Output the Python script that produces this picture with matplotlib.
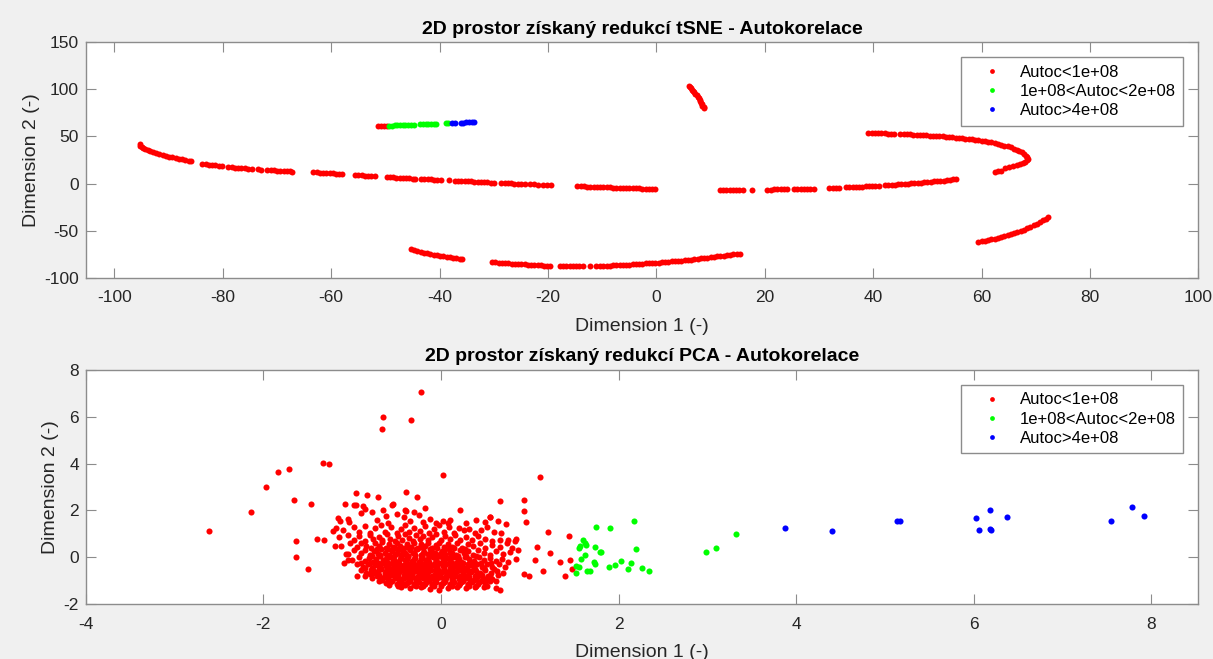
import numpy as np
import matplotlib
matplotlib.use("Agg")
import matplotlib.pyplot as plt

plt.rcParams['font.family'] = ['Liberation Sans', 'DejaVu Sans']
plt.rcParams['axes.unicode_minus'] = False

# ---- tSNE data ----
tsne_red_arc_top = [
    (-95.3, 41.5), (-95.2, 40.2), (-95.0, 39.0), (-94.7, 37.8), (-94.3, 36.6), (-93.9, 35.5),
    (-93.4, 34.4), (-92.9, 33.3), (-92.3, 32.2), (-91.7, 31.2), (-91.1, 30.2), (-90.5, 29.3),
    (-89.9, 28.5), (-89.3, 27.7), (-88.7, 27.0), (-88.1, 26.3), (-87.5, 25.6), (-86.9, 25.0),
    (-86.3, 24.4), (-85.8, 23.9),
    (-83.8, 21.0), (-83.2, 20.5), (-82.6, 20.1), (-82.0, 19.7), (-81.4, 19.3), (-80.8, 18.9),
    (-80.2, 18.5),
    (-79.0, 17.6), (-78.4, 17.3), (-77.8, 17.0), (-77.2, 16.7), (-76.6, 16.4), (-76.0, 16.1),
    (-75.4, 15.8), (-74.6, 15.5), (-73.6, 15.1), (-72.9, 14.8),
    (-71.8, 14.4), (-71.2, 14.2), (-70.6, 14.0), (-70.0, 13.8), (-69.4, 13.5), (-68.8, 13.3),
    (-68.2, 13.1), (-67.6, 12.9), (-67.2, 12.7),
    (-63.3, 12.0), (-62.7, 11.8), (-62.1, 11.6), (-61.5, 11.3), (-60.9, 11.1), (-60.3, 10.9),
    (-59.7, 10.7), (-59.1, 10.5), (-58.5, 10.2), (-58.0, 10.0),
    (-55.6, 9.0), (-55.0, 8.8), (-54.4, 8.6), (-53.8, 8.4), (-53.2, 8.2), (-52.6, 8.0),
    (-52.0, 7.8),
    (-49.8, 6.9), (-49.2, 6.7), (-48.6, 6.5), (-48.0, 6.3), (-47.4, 6.1), (-46.8, 5.9),
    (-46.2, 5.7), (-45.6, 5.5), (-45.0, 5.3), (-44.6, 5.2),
    (-43.4, 4.9), (-42.8, 4.7), (-42.2, 4.5), (-41.6, 4.3), (-41.0, 4.1), (-40.4, 3.9),
    (-39.8, 3.7),
    (-38.2, 3.4), (-37.2, 3.1), (-36.6, 2.9), (-36.0, 2.7), (-35.4, 2.5), (-34.8, 2.3),
    (-34.2, 2.2), (-33.6, 2.0), (-33.0, 1.8), (-32.4, 1.6), (-31.8, 1.5), (-31.2, 1.3),
    (-30.6, 1.1), (-30.0, 1.0),
    (-28.6, 0.7), (-28.0, 0.5), (-27.4, 0.4), (-26.8, 0.2), (-26.2, 0.0), (-25.6, -0.2),
    (-25.0, -0.3), (-24.2, -0.5), (-23.4, -0.7), (-22.6, -0.9), (-21.8, -1.1), (-21.0, -1.3),
    (-20.2, -1.5), (-19.5, -1.7),
    (-14.6, -2.7), (-14.0, -2.9), (-13.4, -3.0), (-12.8, -3.2), (-12.2, -3.3), (-11.6, -3.5),
    (-11.0, -3.6), (-10.4, -3.8), (-9.8, -3.9), (-9.2, -4.1), (-8.6, -4.2), (-8.0, -4.3),
    (-7.4, -4.4), (-6.8, -4.5), (-6.2, -4.7), (-5.6, -4.8), (-5.0, -4.9), (-4.4, -5.0),
    (-3.8, -5.1), (-3.2, -5.2), (-2.6, -5.3), (-2.0, -5.4), (-1.4, -5.5), (-0.8, -5.6),
    (-0.2, -5.7),
]
tsne_red_arc_mid = [
    (11.7, -6.7), (12.3, -6.7), (12.9, -6.6), (13.5, -6.6), (14.1, -6.6), (14.7, -6.5),
    (15.3, -6.5), (15.9, -6.5), (17.6, -6.4),
    (20.5, -6.4), (21.1, -6.4), (21.7, -6.3), (22.3, -6.3), (22.9, -6.2), (23.5, -6.2),
    (24.1, -6.1),
    (25.4, -6.0), (26.0, -5.9), (26.6, -5.9), (27.2, -5.8), (27.8, -5.7), (28.4, -5.6),
    (29.0, -5.5),
    (31.9, -5.0), (32.5, -4.9), (33.1, -4.8), (33.7, -4.6),
    (35.0, -4.2), (35.6, -4.0), (36.2, -3.8), (36.8, -3.6), (37.4, -3.4), (38.0, -3.2),
    (38.6, -3.0), (39.2, -2.8), (39.8, -2.6), (40.4, -2.4), (41.0, -2.2),
    (42.2, -1.8), (42.8, -1.6), (43.4, -1.4), (44.0, -1.2), (44.6, -0.9), (45.2, -0.7),
    (45.8, -0.4), (46.4, -0.1), (47.0, 0.2), (47.6, 0.5), (48.2, 0.8), (48.8, 1.1),
    (49.4, 1.4), (50.0, 1.7), (50.6, 2.0), (51.2, 2.3), (51.8, 2.6), (52.4, 2.9),
    (53.0, 3.2), (53.6, 3.5), (54.2, 3.9), (54.8, 4.3), (55.3, 4.8),
]
tsne_red_hook = [
    (39.1, 53.6), (39.7, 53.5), (40.3, 53.5), (40.9, 53.4), (41.5, 53.3), (42.1, 53.2),
    (42.7, 53.1), (43.3, 53.0), (43.9, 52.9), (45.0, 52.6), (45.6, 52.5), (46.2, 52.3),
    (46.8, 52.2), (47.4, 52.0), (48.0, 51.8), (48.6, 51.6), (49.2, 51.4), (49.8, 51.2),
    (50.4, 51.0), (51.0, 50.8), (51.6, 50.6), (52.2, 50.3), (52.8, 50.1), (53.4, 49.8),
    (54.0, 49.5), (54.6, 49.2), (55.2, 48.9), (55.8, 48.6), (56.4, 48.2), (57.0, 47.8),
    (57.6, 47.4), (58.2, 47.0), (58.8, 46.5), (59.4, 46.0), (60.0, 45.5), (60.6, 44.9),
    (61.2, 44.3), (61.8, 43.6), (62.4, 42.9), (63.0, 42.1), (63.6, 41.3), (64.2, 40.4),
    (64.8, 39.4), (65.4, 38.3), (66.0, 37.1), (66.5, 35.9), (67.0, 34.5), (67.5, 33.0),
    (67.9, 31.4), (68.2, 29.7), (68.4, 28.0), (68.5, 26.3), (68.3, 24.6), (68.0, 23.0),
    (67.6, 21.6), (67.1, 20.4), (66.5, 19.3), (65.8, 18.3), (65.1, 17.5), (64.4, 16.8),
    (63.6, 13.4), (63.0, 13.0), (62.4, 12.6),
]
tsne_red_steep = [
    (6.0, 103.8), (6.2, 102.5), (6.4, 101.1), (6.6, 99.7), (6.8, 98.3), (7.0, 96.9),
    (7.2, 95.4), (7.4, 93.9), (7.6, 92.4), (7.8, 90.8), (8.0, 89.2), (8.1, 87.6),
    (8.3, 86.0), (8.4, 84.4), (8.5, 82.8), (8.7, 81.2), (8.8, 80.0),
]
tsne_red_low_right = [
    (59.4, -62.1), (60.0, -61.5), (60.6, -60.8), (61.2, -60.1), (61.8, -59.3), (62.4, -58.5),
    (63.0, -57.6), (63.6, -56.7), (64.2, -55.8), (64.8, -54.8), (65.4, -53.8), (66.0, -52.7),
    (66.6, -51.5), (67.2, -50.3), (67.8, -49.0), (68.4, -47.6), (69.0, -46.0), (69.6, -44.3),
    (70.2, -42.5), (70.8, -40.6), (71.4, -38.8), (71.9, -37.3), (72.3, -36.0),
]
tsne_red_bottom = [
    (-45.3, -70.0), (-44.7, -70.9), (-44.1, -71.7), (-43.5, -72.5), (-42.9, -73.3), (-42.3, -74.0),
    (-41.7, -74.7), (-41.1, -75.4), (-40.5, -76.1), (-39.9, -76.7), (-39.3, -77.3), (-38.7, -77.9),
    (-38.1, -78.5), (-37.5, -79.0), (-36.9, -79.5), (-36.3, -80.0), (-35.8, -80.5),
    (-30.3, -83.5), (-29.7, -83.8), (-29.1, -84.1), (-28.5, -84.4), (-27.9, -84.6), (-27.3, -84.9),
    (-26.7, -85.1), (-26.1, -85.3), (-25.5, -85.5), (-24.9, -85.7), (-24.3, -85.9), (-23.7, -86.1),
    (-23.1, -86.3), (-22.5, -86.5), (-21.9, -86.7), (-21.3, -86.9), (-20.7, -87.1), (-20.1, -87.2),
    (-19.6, -87.3),
    (-17.8, -87.6), (-17.2, -87.7), (-16.6, -87.7), (-16.0, -87.8), (-15.4, -87.8), (-14.8, -87.8),
    (-14.2, -87.8), (-13.6, -87.7), (-12.2, -87.7), (-11.2, -87.6),
    (-10.4, -87.5), (-9.8, -87.4), (-9.2, -87.3), (-8.6, -87.2), (-8.0, -87.0), (-7.4, -86.9),
    (-6.8, -86.7), (-6.2, -86.5), (-5.6, -86.3), (-5.0, -86.1), (-4.4, -85.9), (-3.8, -85.7),
    (-3.2, -85.4), (-2.6, -85.2), (-2.0, -84.9), (-1.4, -84.7), (-0.8, -84.4), (-0.2, -84.2),
    (0.4, -83.9), (1.0, -83.6), (1.6, -83.3), (2.2, -83.0), (2.8, -82.7), (3.4, -82.4),
    (4.0, -82.1), (4.6, -81.8), (5.2, -81.4), (5.8, -81.1), (6.4, -80.7), (7.0, -80.3),
    (7.6, -79.9), (8.2, -79.5), (8.8, -79.1), (9.4, -78.7), (10.0, -78.3), (10.6, -77.9),
    (11.2, -77.4), (11.8, -77.0), (12.4, -76.5), (13.0, -76.0), (13.6, -75.5), (14.2, -75.1),
    (14.8, -74.8), (15.4, -74.6),
]
tsne_red_short = [(-51.3, 61.1), (-50.8, 61.1), (-50.3, 61.2), (-49.8, 61.2)]
tsne_green = [
    (-49.3, 61.4), (-48.8, 61.5), (-48.3, 61.7), (-47.8, 61.8), (-47.3, 62.0), (-46.8, 62.1),
    (-46.3, 62.3), (-45.8, 62.4), (-45.3, 62.6), (-44.8, 62.7), (-43.6, 63.0), (-43.1, 63.1),
    (-42.6, 63.2), (-42.1, 63.3), (-41.6, 63.4), (-41.1, 63.5), (-40.6, 63.6), (-38.9, 64.1),
    (-38.5, 64.2),
]
tsne_blue = [
    (-37.8, 64.4), (-37.2, 64.5), (-36.1, 64.7), (-35.6, 64.8), (-35.1, 64.9), (-34.6, 65.0),
    (-34.1, 65.0), (-33.6, 65.1),
]

# ---- PCA data ----
pca_red_outer = [
    (-2.61, 1.14), (-2.14, 1.94), (-1.97, 3.02), (-1.84, 3.62), (-1.71, 3.77), (-1.65, 2.45),
    (-1.63, 0.71), (-1.63, 0.0), (-1.50, -0.48), (-1.46, 2.26), (-1.40, 0.80), (-1.33, 4.03),
    (-1.26, 3.96), (-1.32, 0.74), (-0.65, 5.98), (-0.66, 5.48), (-0.34, 5.84), (-0.23, 7.05),
    (0.02, 3.52), (1.12, 3.43), (-0.39, 2.80), (-0.27, 2.58), (0.94, 2.46), (0.94, 1.99),
    (0.96, 1.51), (1.21, 1.08), (1.23, 0.17), (1.34, -0.20), (1.40, -0.81), (1.44, 0.90),
    (1.45, -0.10), (1.48, -0.50), (1.15, -0.60), (1.06, -0.10), (1.08, 0.43), (0.99, -0.81),
    (0.94, -0.71), (0.67, -1.38), (0.62, -1.32), (0.21, 2.04), (0.67, 2.39), (0.55, 1.72),
    (0.64, 1.54), (0.73, 1.42), (0.83, 0.68), (0.87, 0.33), (-0.96, 2.76), (-0.83, 2.66),
    (-0.71, 2.56), (-0.54, 2.28), (-0.39, 1.99), (-1.08, 2.26), (-0.98, 2.22), (-1.16, 1.68),
    (-1.14, 1.54), (-1.18, 1.24), (-1.22, 1.11), (-1.19, 0.47), (-1.07, 0.14), (-1.09, -0.24),
    (-1.05, -0.10), (-0.94, -0.78),
]
pca_red_core = [
    (-1.05, 1.62), (-1.03, 1.50), (-0.90, 1.90), (-0.78, 1.95), (-0.72, 1.60), (-0.62, 1.75),
    (-0.60, 1.45), (-0.50, 1.85), (-0.42, 1.70), (-0.35, 1.55), (-0.25, 1.80), (-0.20, 1.50),
    (-0.12, 1.65), (-0.05, 1.45), (0.02, 1.55), (0.10, 1.60), (0.28, 1.45), (0.40, 1.60),
    (0.50, 1.50), (0.55, 1.70), (-0.85, 2.05), (-0.65, 2.00), (-0.40, 2.00), (-0.55, 2.25),
    (-0.88, 2.20), (-0.96, 2.25), (0.08, 1.45), (-0.30, 1.95), (-0.18, 2.10),
    (-1.10, 1.15), (-0.98, 1.30), (-0.92, 1.10), (-0.85, 1.35), (-0.80, 1.05), (-0.74, 1.25),
    (-0.68, 1.40), (-0.63, 1.10), (-0.56, 1.30), (-0.50, 1.05), (-0.45, 1.20), (-0.40, 1.38),
    (-0.36, 1.08), (-0.30, 1.25), (-0.24, 1.12), (-0.18, 1.35), (-0.13, 1.05), (-0.08, 1.22),
    (-0.02, 1.40), (0.04, 1.10), (0.09, 1.30), (0.15, 1.05), (0.20, 1.25), (0.26, 1.15),
    (0.32, 1.20), (0.38, 1.05), (0.45, 1.18), (0.52, 1.30), (0.60, 1.10), (0.68, 1.05),
    (-1.15, 0.85), (-1.05, 0.95), (-0.98, 0.75), (-0.92, 0.90), (-0.86, 0.70), (-0.80, 0.95),
    (-0.76, 0.78), (-0.70, 0.88), (-0.66, 0.72), (-0.61, 0.98), (-0.57, 0.80), (-0.52, 0.70),
    (-0.48, 0.92), (-0.44, 0.76), (-0.40, 1.00), (-0.36, 0.82), (-0.32, 0.70), (-0.28, 0.94),
    (-0.24, 0.78), (-0.20, 0.90), (-0.15, 0.72), (-0.10, 0.86), (-0.05, 0.98), (0.00, 0.75),
    (0.05, 0.90), (0.10, 0.78), (0.16, 0.95), (0.22, 0.72), (0.28, 0.85), (0.35, 0.75),
    (0.42, 0.92), (0.50, 0.80), (0.58, 0.70), (0.66, 0.76), (0.75, 0.72), (0.85, 0.78),
    (-1.12, 0.50), (-1.02, 0.60), (-0.95, 0.45), (-0.90, 0.62), (-0.84, 0.50), (-0.79, 0.42),
    (-0.74, 0.60), (-0.70, 0.48), (-0.66, 0.64), (-0.62, 0.40), (-0.58, 0.55), (-0.54, 0.45),
    (-0.50, 0.62), (-0.46, 0.50), (-0.42, 0.40), (-0.38, 0.58), (-0.34, 0.46), (-0.30, 0.63),
    (-0.26, 0.42), (-0.22, 0.55), (-0.18, 0.48), (-0.14, 0.62), (-0.10, 0.40), (-0.06, 0.52),
    (-0.02, 0.60), (0.03, 0.44), (0.08, 0.58), (0.13, 0.46), (0.18, 0.60), (0.24, 0.42),
    (0.30, 0.55), (0.36, 0.48), (0.44, 0.60), (0.50, 0.42), (0.58, 0.52), (0.66, 0.45),
    (0.74, 0.60), (0.80, 0.40),
    (-1.05, 0.15), (-0.98, 0.30), (-0.90, 0.20), (-0.85, 0.32), (-0.80, 0.12), (-0.75, 0.26),
    (-0.71, 0.15), (-0.67, 0.34), (-0.63, 0.20), (-0.59, 0.10), (-0.55, 0.28), (-0.51, 0.16),
    (-0.47, 0.34), (-0.43, 0.22), (-0.39, 0.10), (-0.35, 0.30), (-0.31, 0.18), (-0.27, 0.34),
    (-0.23, 0.12), (-0.19, 0.25), (-0.15, 0.15), (-0.11, 0.32), (-0.07, 0.20), (-0.03, 0.10),
    (0.01, 0.28), (0.05, 0.16), (0.09, 0.34), (0.13, 0.20), (0.17, 0.10), (0.21, 0.30),
    (0.26, 0.18), (0.31, 0.26), (0.36, 0.12), (0.42, 0.30), (0.48, 0.20), (0.55, 0.10),
    (0.62, 0.28), (0.70, 0.15), (0.78, 0.22),
    (-1.00, -0.10), (-0.92, 0.00), (-0.86, -0.15), (-0.81, -0.02), (-0.77, -0.18), (-0.73, -0.05),
    (-0.69, 0.04), (-0.65, -0.12), (-0.61, -0.20), (-0.57, 0.02), (-0.53, -0.10), (-0.49, -0.18),
    (-0.45, 0.00), (-0.41, -0.12), (-0.37, 0.04), (-0.33, -0.16), (-0.29, -0.04), (-0.25, -0.20),
    (-0.21, 0.02), (-0.17, -0.10), (-0.13, -0.18), (-0.09, 0.00), (-0.05, -0.12), (-0.01, 0.04),
    (0.03, -0.16), (0.07, -0.04), (0.11, -0.20), (0.15, 0.00), (0.19, -0.10), (0.23, -0.18),
    (0.27, 0.02), (0.32, -0.08), (0.37, -0.16), (0.43, 0.00), (0.49, -0.12), (0.55, -0.02),
    (0.62, -0.15), (0.69, -0.05), (0.76, -0.20), (0.84, -0.08),
    (-0.95, -0.30), (-0.88, -0.40), (-0.82, -0.28), (-0.78, -0.45), (-0.74, -0.32), (-0.70, -0.42),
    (-0.66, -0.26), (-0.62, -0.38), (-0.58, -0.30), (-0.54, -0.45), (-0.50, -0.28), (-0.46, -0.40),
    (-0.42, -0.32), (-0.38, -0.44), (-0.34, -0.26), (-0.30, -0.38), (-0.26, -0.30), (-0.22, -0.45),
    (-0.18, -0.28), (-0.14, -0.40), (-0.10, -0.32), (-0.06, -0.44), (-0.02, -0.26), (0.02, -0.38),
    (0.06, -0.30), (0.10, -0.45), (0.14, -0.28), (0.18, -0.40), (0.22, -0.32), (0.26, -0.44),
    (0.31, -0.27), (0.36, -0.38), (0.41, -0.30), (0.46, -0.42), (0.52, -0.30), (0.58, -0.40),
    (0.65, -0.30), (0.72, -0.42),
    (-0.90, -0.55), (-0.84, -0.65), (-0.79, -0.52), (-0.75, -0.68), (-0.71, -0.58), (-0.67, -0.50),
    (-0.63, -0.66), (-0.59, -0.56), (-0.55, -0.70), (-0.51, -0.52), (-0.47, -0.62), (-0.43, -0.55),
    (-0.39, -0.70), (-0.35, -0.50), (-0.31, -0.64), (-0.27, -0.56), (-0.23, -0.68), (-0.19, -0.52),
    (-0.15, -0.62), (-0.11, -0.55), (-0.07, -0.70), (-0.03, -0.52), (0.01, -0.64), (0.05, -0.56),
    (0.09, -0.68), (0.13, -0.50), (0.17, -0.62), (0.21, -0.55), (0.25, -0.70), (0.29, -0.52),
    (0.34, -0.64), (0.39, -0.56), (0.44, -0.68), (0.50, -0.55), (0.56, -0.66), (0.63, -0.58),
    (0.70, -0.66),
    (-0.85, -0.80), (-0.78, -0.90), (-0.72, -0.78), (-0.68, -0.92), (-0.64, -0.82), (-0.60, -0.95),
    (-0.56, -0.76), (-0.52, -0.88), (-0.48, -0.80), (-0.44, -0.94), (-0.40, -0.78), (-0.36, -0.90),
    (-0.32, -0.82), (-0.28, -0.95), (-0.24, -0.76), (-0.20, -0.88), (-0.16, -0.80), (-0.12, -0.94),
    (-0.08, -0.78), (-0.04, -0.90), (0.00, -0.82), (0.04, -0.95), (0.08, -0.76), (0.12, -0.88),
    (0.16, -0.80), (0.20, -0.94), (0.24, -0.78), (0.28, -0.90), (0.32, -0.82), (0.37, -0.95),
    (0.42, -0.80), (0.47, -0.90), (0.53, -0.80), (0.58, -0.92),
    (-0.70, -1.02), (-0.62, -1.10), (-0.55, -1.00), (-0.50, -1.15), (-0.45, -1.05), (-0.40, -1.18),
    (-0.35, -1.00), (-0.30, -1.12), (-0.25, -1.04), (-0.20, -1.20), (-0.15, -1.02), (-0.10, -1.14),
    (-0.05, -1.06), (0.00, -1.20), (0.05, -1.00), (0.10, -1.12), (0.15, -1.05), (0.20, -1.18),
    (0.25, -1.02), (0.30, -1.14), (0.35, -1.06), (0.40, -1.20), (0.45, -1.00), (0.50, -1.10),
    (0.55, -1.02),
    (-0.45, -1.25), (-0.35, -1.30), (-0.22, -1.27), (-0.12, -1.33), (-0.02, -1.38), (0.08, -1.30),
    (0.18, -1.26), (0.28, -1.32), (0.38, -1.27), (0.48, -1.25),
]
pca_red_dense = [
    (-0.58, -1.16), (-0.48, -1.22), (-0.38, -1.10), (-0.28, -1.22), (-0.18, -1.12), (-0.08, -1.24),
    (0.02, -1.10), (0.12, -1.22), (0.22, -1.10), (0.32, -1.24), (0.42, -1.12), (0.52, -1.20),
    (-0.66, -0.98), (-0.57, -1.04), (-0.47, -0.98), (-0.37, -1.04), (-0.27, -0.98), (-0.17, -1.04),
    (-0.07, -0.98), (0.03, -1.04), (0.13, -0.98), (0.23, -1.04), (0.33, -0.98), (0.43, -1.04),
    (0.52, -0.96), (0.62, -1.00),
    (-0.80, -0.72), (-0.70, -0.74), (-0.60, -0.80), (-0.50, -0.72), (-0.42, -0.76), (-0.34, -0.72),
    (-0.26, -0.80), (-0.18, -0.73), (-0.10, -0.80), (-0.02, -0.73), (0.06, -0.80), (0.14, -0.72),
    (0.22, -0.80), (0.30, -0.73), (0.38, -0.79), (0.46, -0.74), (0.55, -0.78), (0.64, -0.74),
    (-0.86, -0.47), (-0.76, -0.52), (-0.68, -0.46), (-0.60, -0.50), (-0.52, -0.47), (-0.44, -0.50),
    (-0.36, -0.46), (-0.28, -0.50), (-0.20, -0.47), (-0.12, -0.50), (-0.04, -0.46), (0.04, -0.50),
    (0.12, -0.47), (0.20, -0.50), (0.28, -0.46), (0.38, -0.50), (0.48, -0.47), (0.60, -0.50),
    (-0.90, -0.22), (-0.80, -0.25), (-0.71, -0.22), (-0.63, -0.26), (-0.55, -0.22), (-0.47, -0.25),
    (-0.39, -0.22), (-0.31, -0.26), (-0.23, -0.22), (-0.15, -0.25), (-0.07, -0.22), (0.01, -0.26),
    (0.09, -0.22), (0.17, -0.25), (0.25, -0.22), (0.34, -0.24), (0.45, -0.22), (0.56, -0.25),
    (-0.78, 0.07), (-0.69, 0.10), (-0.61, 0.06), (-0.53, 0.08), (-0.45, 0.10), (-0.37, 0.06),
    (-0.29, 0.09), (-0.21, 0.06), (-0.13, 0.08), (-0.05, 0.10), (0.03, 0.06), (0.11, 0.09),
    (0.19, 0.06), (0.28, 0.08), (0.40, 0.08),
    (-0.72, 0.36), (-0.60, 0.34), (-0.52, 0.38), (-0.44, 0.33), (-0.36, 0.38), (-0.28, 0.36),
    (-0.20, 0.38), (-0.12, 0.34), (-0.04, 0.38), (0.05, 0.36), (0.15, 0.38), (0.27, 0.36),
]
pca_red_centre = [
    (-0.62, -0.60), (-0.54, -0.62), (-0.46, -0.58), (-0.38, -0.60), (-0.30, -0.58), (-0.22, -0.60),
    (-0.14, -0.58), (-0.06, -0.60), (0.02, -0.58), (0.10, -0.60), (0.18, -0.58), (0.26, -0.60),
    (0.34, -0.58),
    (-0.60, -0.86), (-0.50, -0.84), (-0.42, -0.86), (-0.34, -0.84), (-0.26, -0.86), (-0.18, -0.84),
    (-0.10, -0.86), (-0.02, -0.84), (0.06, -0.86), (0.14, -0.84), (0.22, -0.86), (0.30, -0.84),
    (0.40, -0.86),
    (-0.60, -0.35), (-0.52, -0.36), (-0.44, -0.35), (-0.36, -0.36), (-0.28, -0.35), (-0.20, -0.36),
    (-0.12, -0.35), (-0.04, -0.36), (0.04, -0.35), (0.12, -0.36), (0.20, -0.35), (0.30, -0.36),
    (-0.62, -0.08), (-0.54, -0.06), (-0.46, -0.08), (-0.38, -0.06), (-0.30, -0.08), (-0.22, -0.06),
    (-0.14, -0.08), (-0.06, -0.06), (0.02, -0.08), (0.10, -0.06), (0.20, -0.08),
    (-0.50, 0.20), (-0.40, 0.18), (-0.30, 0.20), (-0.20, 0.18), (-0.10, 0.20), (0.00, 0.18),
    (0.10, 0.20),
    (-0.40, -1.14), (-0.30, -1.16), (-0.20, -1.14), (-0.10, -1.16), (0.00, -1.14), (0.10, -1.16),
    (0.20, -1.14), (0.30, -1.16),
]
pca_green = [
    (1.75, 1.31), (1.90, 1.24), (1.55, 0.38), (1.57, 0.48), (1.60, 0.74), (1.62, 0.62),
    (1.63, 0.53), (1.58, -0.07), (1.62, 0.10), (1.52, -0.37), (1.52, -0.65), (1.56, -0.43),
    (1.64, -0.57), (1.68, -0.57), (1.73, 0.43), (1.80, 0.23), (1.72, -0.18), (1.73, -0.30),
    (2.17, 1.54), (1.79, 0.24), (2.20, 0.34), (1.89, -0.39), (1.96, -0.31), (2.03, -0.17),
    (2.11, -0.48), (2.14, -0.24), (2.26, -0.45), (2.34, -0.58), (2.99, 0.24), (3.10, 0.40),
    (3.32, 1.00),
]
pca_blue = [
    (3.87, 1.24), (4.41, 1.11), (5.14, 1.57), (5.17, 1.54), (6.03, 1.69), (6.18, 2.02),
    (6.06, 1.18), (6.18, 1.22), (6.20, 1.15), (6.38, 1.72), (7.55, 1.57), (7.78, 2.15),
    (7.92, 1.76),
]

labels = ['Autoc<1e+08', '1e+08<Autoc<2e+08', 'Autoc>4e+08']
colors = ['#ff0000', '#00ff00', '#0000ff']

BG = '#f0f0f0'
SPINE = '#8c8c8c'
TEXT = '#262626'


def style_axes(ax):
    for s in ax.spines.values():
        s.set_color(SPINE)
        s.set_linewidth(1.0)
    ax.tick_params(direction='in', length=7, width=0.8, color=SPINE,
                   top=True, right=True, labelsize=12.5, labelcolor=TEXT)
    ax.tick_params(axis='x', pad=9)
    ax.tick_params(axis='y', pad=5)


def draw(ax, groups, title, ms):
    for pts, lab, col in zip(groups, labels, colors):
        xs = [p[0] for p in pts]
        ys = [p[1] for p in pts]
        ax.plot(xs, ys, 'o', ms=ms, mew=0, color=col, label=lab)
    ax.set_title(title, fontsize=14, fontweight='bold', color='black', pad=6)
    ax.set_xlabel('Dimension 1 (-)', fontsize=14, color=TEXT, labelpad=9)
    ax.set_ylabel('Dimension 2 (-)', fontsize=14, color=TEXT, labelpad=3)
    style_axes(ax)


def add_legend(ax, top, scale):
    leg = ax.legend(loc='upper right', bbox_to_anchor=(0.9865, top), borderaxespad=0,
                    fontsize=12, frameon=True, fancybox=False, framealpha=1,
                    edgecolor=SPINE, handlelength=2.8, handletextpad=0.25,
                    labelspacing=0.25, borderpad=0.45, markerscale=scale)
    leg.get_frame().set_linewidth(1.0)


fig = plt.figure(figsize=(12.13, 6.59), dpi=100, facecolor=BG)

tsne_red = (tsne_red_arc_top + tsne_red_arc_mid + tsne_red_hook + tsne_red_steep
            + tsne_red_low_right + tsne_red_bottom + tsne_red_short)

ax1 = fig.add_axes([0.0707, 0.5786, 0.9172, 0.3572])
draw(ax1, [tsne_red, tsne_green, tsne_blue],
     '2D prostor získaný redukcí tSNE - Autokorelace', 4.3)
ax1.set_xlim(-105.3, 100)
ax1.set_ylim(-100, 150)
ax1.set_xticks(np.arange(-100, 101, 20))
ax1.set_yticks(np.arange(-100, 151, 50))
add_legend(ax1, 0.9363, 0.8)

ax2 = fig.add_axes([0.0707, 0.0830, 0.9172, 0.3560])
draw(ax2, [pca_red_core + pca_red_dense + pca_red_centre + pca_red_outer, pca_green, pca_blue],
     '2D prostor získaný redukcí PCA - Autokorelace', 4.4)
ax2.set_xlim(-4, 8.53)
ax2.set_ylim(-2, 8)
ax2.set_xticks(np.arange(-4, 9, 2))
ax2.set_yticks(np.arange(-2, 9, 2))
add_legend(ax2, 0.9348, 0.78)

fig.savefig('out.png', dpi=100, facecolor=BG)
